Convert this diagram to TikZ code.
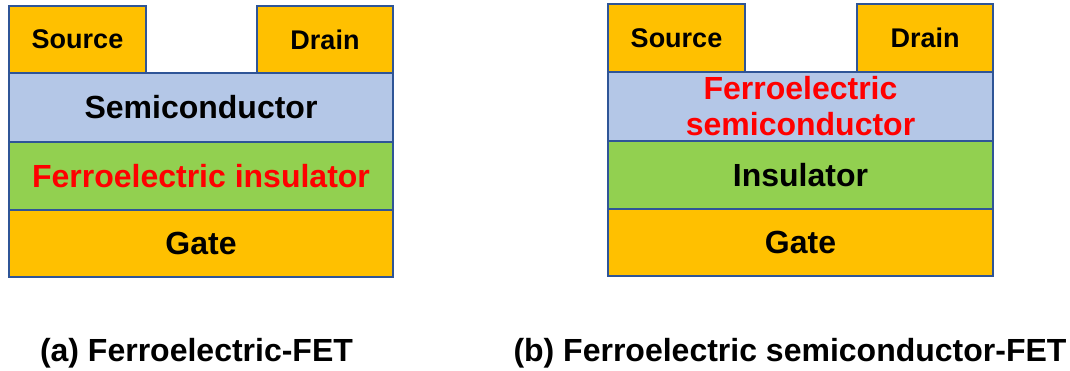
\documentclass[tikz,border=0pt]{standalone}
\usepackage{fontspec}
\setmainfont{Liberation Sans}
\definecolor{gold}{HTML}{FFC000}
\definecolor{semi}{HTML}{B4C7E7}
\definecolor{grn}{HTML}{92D050}
\definecolor{edgeblue}{HTML}{2F5597}
\definecolor{redtxt}{HTML}{FF0000}
\begin{document}
\begin{tikzpicture}[x=1pt,y=-1pt,
  layer/.style={draw=edgeblue, line width=1.5pt, inner sep=0pt, rectangle,
    font=\bfseries\fontsize{32}{36}\selectfont, align=center},
  contact/.style={layer, fill=gold, font=\bfseries\fontsize{27}{30}\selectfont},
  caption/.style={anchor=base, inner sep=0pt, font=\bfseries\fontsize{32}{36}\selectfont}]
\useasboundingbox (0,0) rectangle (1070,371);
% (a) Ferroelectric-FET
\node[contact, minimum width=137pt, minimum height=67pt] (srcA) at (77.5,39.5) {Source};
\node[contact, minimum width=136pt, minimum height=67pt] (drnA) at (325,39.5) {Drain};
\node[layer, fill=semi, minimum width=384pt, minimum height=69pt] (semA) at (201,107.5) {Semiconductor};
\node[layer, fill=grn, minimum width=384pt, minimum height=68pt, text=redtxt] (fiA) at (201,176) {Ferroelectric insulator};
\node[layer, fill=gold, minimum width=384pt, minimum height=67pt] (gateA) at (201,243.5) {Gate};
% (b) Ferroelectric semiconductor-FET
\node[contact, minimum width=137pt, minimum height=68pt] (srcB) at (676.5,38) {Source};
\node[contact, minimum width=136pt, minimum height=68pt] (drnB) at (925,38) {Drain};
\node[layer, fill=semi, minimum width=385pt, minimum height=69pt, text=redtxt] (fsB) at (800.5,106.5) {Ferroelectric\\semiconductor};
\node[layer, fill=grn, minimum width=385pt, minimum height=68pt] (insB) at (800.5,175) {Insulator};
\node[layer, fill=gold, minimum width=385pt, minimum height=67pt] (gateB) at (800.5,242.5) {Gate};
% captions
\node[caption] (capA) at (196.5,361) {(a) Ferroelectric-FET};
\node[caption] (capB) at (790,361) {(b) Ferroelectric semiconductor-FET};
\end{tikzpicture}
\end{document}
